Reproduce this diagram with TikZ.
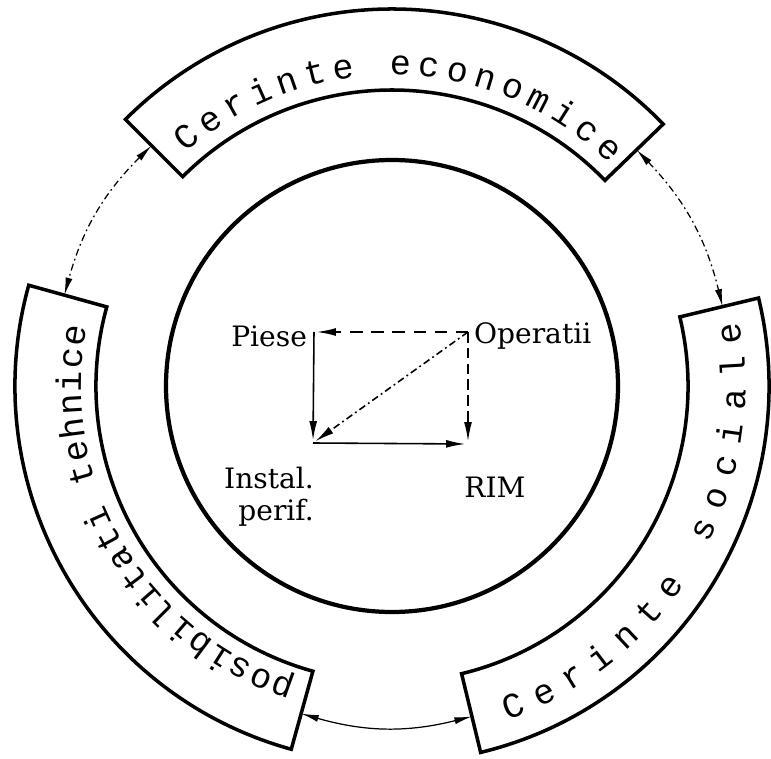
\documentclass[tikz,border=0pt]{standalone}
\usepackage{fontspec}
\setmainfont{DejaVu Serif}
\newfontfamily\typefont{Liberation Mono}
\usetikzlibrary{arrows.meta,decorations.text}

\begin{document}
\begin{tikzpicture}[>={Latex[length=10pt,width=4pt]},
    band/.style={draw, line width=2pt, line join=miter},
    bandtext/.style={decorate, decoration={text along path, text align={fit to path},
                     text={|\typefont\fontsize{20}{22}\selectfont|#1}}},
    link/.style={<->, line width=0.7pt},
    dashdot/.style={dash pattern=on 4pt off 2pt on 1pt off 2pt},
    flow/.style={-{Latex[length=11pt,width=4.5pt]}, line width=0.9pt, shorten >=1.5pt},
    lbl/.style={font=\fontsize{16}{18}\selectfont, inner sep=1pt}]
  \useasboundingbox (-7.84,-7.44) rectangle (7.58,7.72);
  %% Core circle
  \draw[line width=2.4pt] (0,0) circle[radius=4.52];
  %% Three bands
  \draw[band] (135:5.92) arc[start angle=135, end angle=44, radius=5.92]
    -- (44:7.54) arc[start angle=44, end angle=135, radius=7.54] -- cycle;
  \draw[band] (254.5:5.92) arc[start angle=254.5, end angle=164.5, radius=5.92]
    -- (164.5:7.54) arc[start angle=164.5, end angle=254.5, radius=7.54] -- cycle;
  \draw[band] (-76.4:5.92) arc[start angle=-76.4, end angle=13.5, radius=5.92]
    -- (13.5:7.54) arc[start angle=13.5, end angle=-76.4, radius=7.54] -- cycle;
  %% Band texts
  \path[bandtext=Cerinte economice] (131.5:6.22) arc[start angle=131.5, end angle=45.5, radius=6.22];
  \path[bandtext=posibilitati tehnice] (252:6.22) arc[start angle=252, end angle=169, radius=6.22];
  \path[bandtext=Cerinte sociale] (-71:7.07) arc[start angle=-71, end angle=10.5, radius=7.07];
  %% Band ends
  \coordinate (ecoL) at (135:6.8);
  \coordinate (ecoR) at (44:6.8);
  \coordinate (tehT) at (164.5:6.8);
  \coordinate (tehB) at (254.5:6.8);
  \coordinate (socT) at (13.5:6.8);
  \coordinate (socB) at (283.6:6.8);
  %% Links between bands
  \draw[link, dashdot] (ecoL) to[bend right=15] (tehT);
  \draw[link, dashdot] (ecoR) to[bend left=15] (socT);
  \draw[link] (tehB) to[bend right=15] (socB);
  %% Inner scheme
  \coordinate (piese) at (-1.56,1.08);
  \coordinate (ops)   at (1.52,1.08);
  \coordinate (inst)  at (-1.58,-1.14);
  \coordinate (rim)   at (1.52,-1.16);
  \node[lbl, anchor=east] (pieselbl) at (-1.66,1.0) {Piese};
  \node[lbl, anchor=west] (opslbl) at (1.6,1.0) {Operatii};
  \node[lbl, align=right] (instlbl) at (-2.46,-2.22) {Instal.\\perif.};
  \node[lbl] (rimlbl) at (2.06,-2.02) {RIM};
  \draw[flow, dash pattern=on 7pt off 5pt] (ops) -- (piese);
  \draw[flow] (piese) -- (inst);
  \draw[flow, dash pattern=on 6pt off 3pt] (ops) -- (rim);
  \draw[flow] (inst) -- (rim);
  \draw[flow, dashdot] (ops) -- (inst);
\end{tikzpicture}
\end{document}
